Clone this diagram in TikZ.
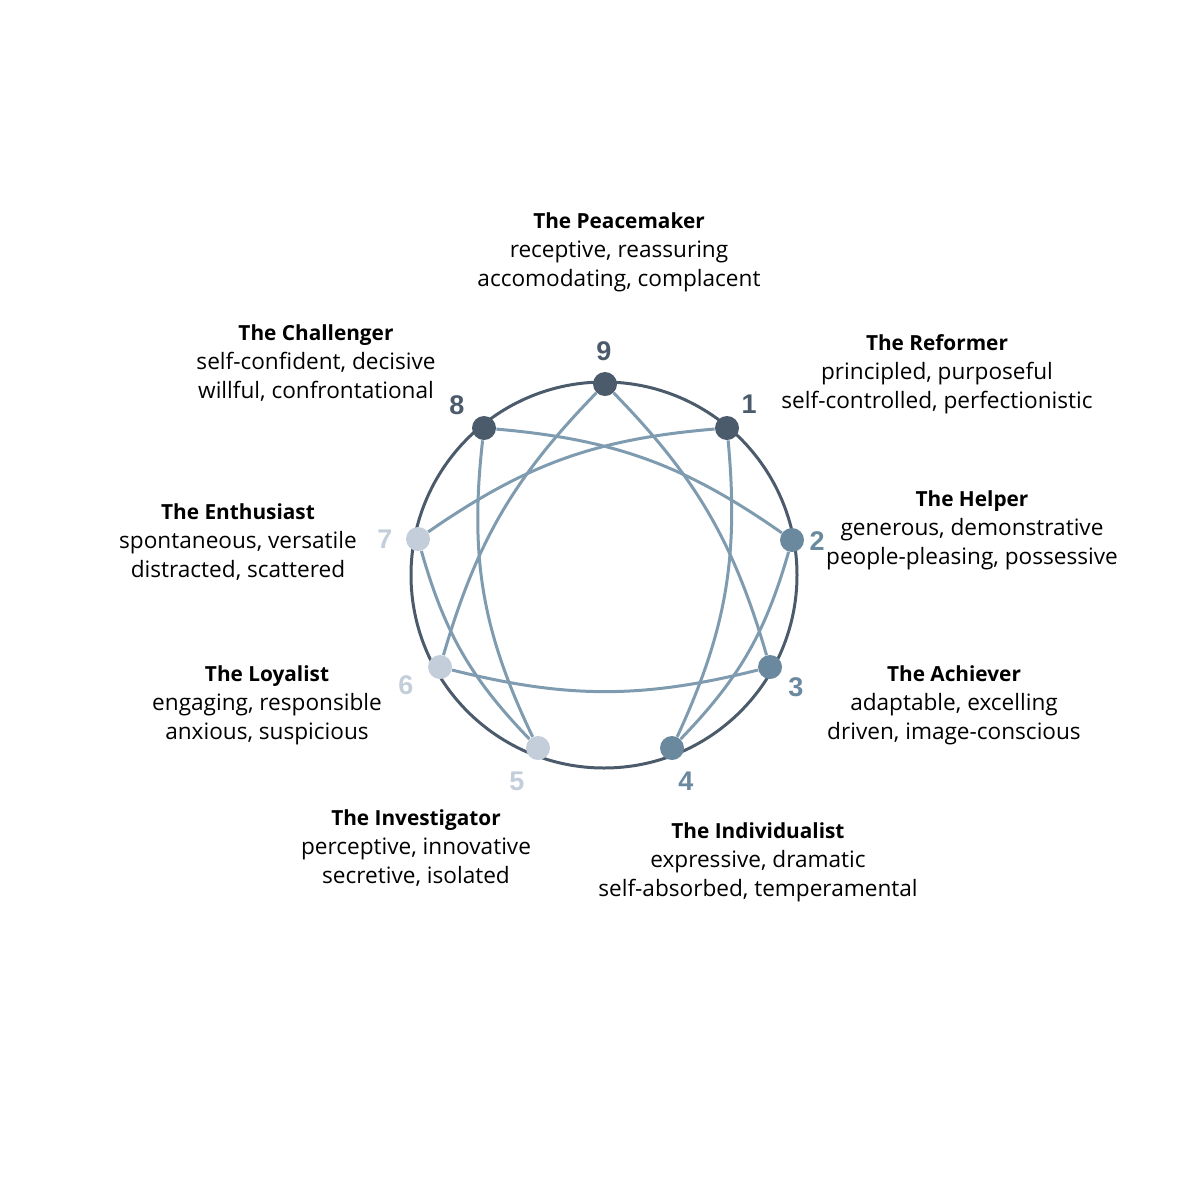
\documentclass[tikz,border=0pt]{standalone}
\usepackage{fontspec}
\setmainfont{Open Sans}
\newfontfamily\cifre{Liberation Sans}
\usetikzlibrary{backgrounds}
\definecolor{scuro}{HTML}{4B5B6B}
\definecolor{medio}{HTML}{6A889E}
\definecolor{chiaro}{HTML}{C3CEDA}
\definecolor{linea}{HTML}{7F9BB0}
\newcommand\titolo[1]{{\fontsize{10.4}{14.5}\selectfont\bfseries #1}}
\tikzset{
  punto/.style={circle, inner sep=0pt, minimum size=12pt},
  numero/.style={inner sep=0pt, font=\cifre\bfseries\fontsize{13.5}{13.5}\selectfont},
  tipo/.style={align=center, inner sep=0pt, font=\fontsize{11.3}{14.5}\selectfont},
  traccia/.style={line width=1.5pt, draw=linea},
}
\begin{document}
\begin{tikzpicture}[x=0.5pt,y=-0.5pt]
        \useasboundingbox (0,0) rectangle (1200,1200);
        % --- punti sul cerchio ----------------------------------------------
        \node[punto, fill=scuro]  (p9) at (605,384) {};
        \node[punto, fill=scuro]  (p1) at (727,428) {};
        \node[punto, fill=medio]  (p2) at (792,540) {};
        \node[punto, fill=medio]  (p3) at (770,667) {};
        \node[punto, fill=medio]  (p4) at (672,748) {};
        \node[punto, fill=chiaro] (p5) at (538,748) {};
        \node[punto, fill=chiaro] (p6) at (440,667) {};
        \node[punto, fill=chiaro] (p7) at (418,539) {};
        \node[punto, fill=scuro]  (p8) at (484,428) {};
        % --- numeri -----------------------------------------------------------
        \node[numero, text=scuro]  (n9) at (604,351) {9};
        \node[numero, text=scuro]  (n1) at (749,404) {1};
        \node[numero, text=medio]  (n2) at (817,541) {2};
        \node[numero, text=medio]  (n3) at (796,687) {3};
        \node[numero, text=medio]  (n4) at (686,781) {4};
        \node[numero, text=chiaro] (n5) at (517,781) {5};
        \node[numero, text=chiaro] (n6) at (406,685) {6};
        \node[numero, text=chiaro] (n7) at (385,539) {7};
        \node[numero, text=scuro]  (n8) at (457,405) {8};
        % --- descrizioni dei tipi --------------------------------------------
        \node[tipo] (t9) at (619,252) {\titolo{The Peacemaker}\\receptive, reassuring\\accomodating, complacent};
        \node[tipo] (t1) at (937,374) {\titolo{The Reformer}\\principled, purposeful\\self-controlled, perfectionistic};
        \node[tipo] (t2) at (972,530) {\titolo{The Helper}\\generous, demonstrative\\people-pleasing, possessive};
        \node[tipo] (t3) at (954,705) {\titolo{The Achiever}\\adaptable, excelling\\driven, image-conscious};
        \node[tipo] (t4) at (758,862) {\titolo{The Individualist}\\expressive, dramatic\\self-absorbed, temperamental};
        \node[tipo] (t5) at (416,848) {\titolo{The Investigator}\\perceptive, innovative\\secretive, isolated};
        \node[tipo] (t6) at (267,705) {\titolo{The Loyalist}\\engaging, responsible\\anxious, suspicious};
        \node[tipo] (t7) at (238,542) {\titolo{The Enthusiast}\\spontaneous, versatile\\distracted, scattered};
        \node[tipo] (t8) at (316,363) {\titolo{The Challenger}\\self-confident, decisive\\willful, confrontational};
        % --- cerchio e linee interne ------------------------------------------
        \begin{scope}[on background layer]
            \draw[scuro, line width=1.5pt] (604,575) circle[radius=193];
            % triangolo 9-3-6
            \draw[traccia] (p3) to[bend right=14] (p9);
            \draw[traccia] (p6) to[bend right=14] (p3);
            \draw[traccia] (p9) to[bend right=14] (p6);
            % esagono 1-4-2-8-5-7
            \draw[traccia] (p4) to[bend right=15] (p1);
            \draw[traccia] (p4) to[bend right=14] (p2);
            \draw[traccia] (p2) to[bend right=15] (p8);
            \draw[traccia] (p8) to[bend right=16] (p5);
            \draw[traccia] (p7) to[bend right=14] (p5);
            \draw[traccia] (p1) to[bend right=15] (p7);
        \end{scope}
\end{tikzpicture}
\end{document}
